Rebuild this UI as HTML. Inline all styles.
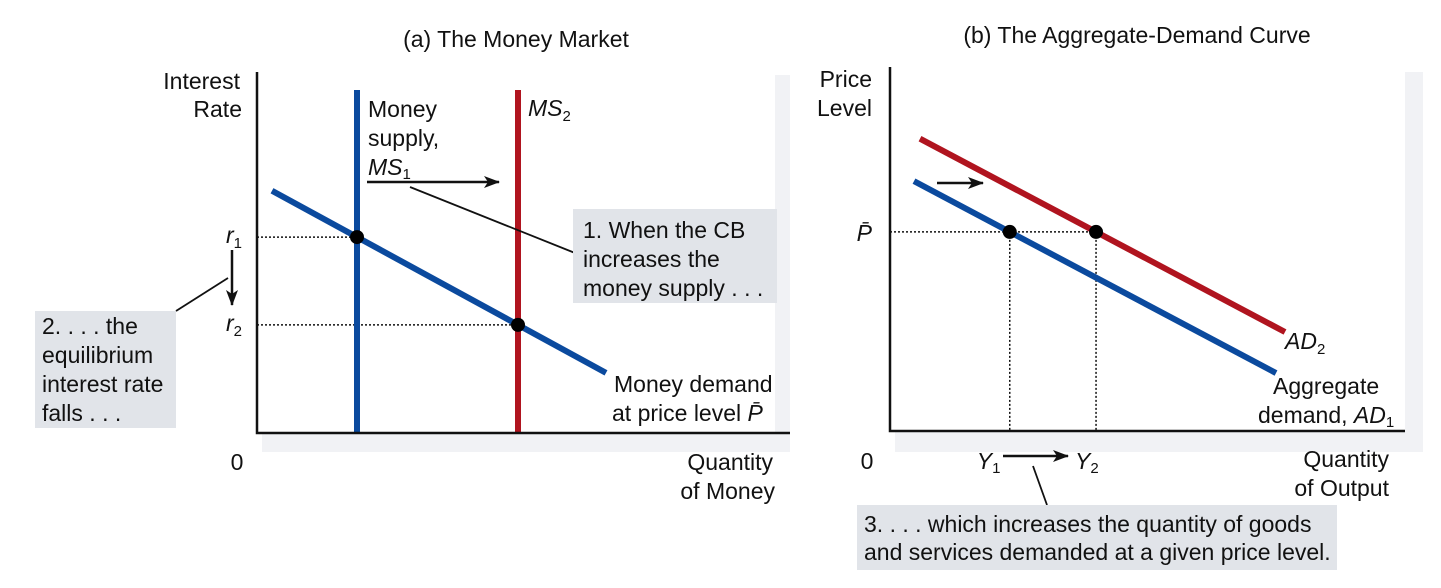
<!DOCTYPE html>
<html><head><meta charset="utf-8">
<style>
html,body{margin:0;padding:0;background:#fff;}
svg{display:block;font-family:"Liberation Sans",Arial,sans-serif;}
text{font-size:23px;fill:#111;}
</style></head>
<body>
<svg id="chart" width="1441" height="588" viewBox="0 0 1441 588" xmlns="http://www.w3.org/2000/svg">
<g id="panelA">
  <rect x="262" y="75" width="528" height="377" fill="#f1f2f5"/>
  <rect x="257" y="66" width="518" height="367" fill="#fff"/>
  <text x="516" y="47" text-anchor="middle" font-size="22">(a) The Money Market</text>
  <text x="240" y="89" text-anchor="end"><tspan x="240">Interest</tspan><tspan x="242" dy="28">Rate</tspan></text>
  <text x="237" y="470" text-anchor="middle">0</text>
  <text x="773" y="470" text-anchor="end"><tspan x="773">Quantity</tspan><tspan x="775" dy="29">of Money</tspan></text>
</g>
<g id="panelB">
  <rect x="895" y="72" width="528" height="380" fill="#f1f2f5"/>
  <rect x="890" y="64" width="515" height="367" fill="#fff"/>
  <text x="1137" y="43" text-anchor="middle" font-size="22">(b) The Aggregate-Demand Curve</text>
  <text x="872" y="87" text-anchor="end"><tspan x="872">Price</tspan><tspan x="872" dy="29">Level</tspan></text>
  <text x="867" y="469" text-anchor="middle">0</text>
  <text x="1389" y="467" text-anchor="end"><tspan x="1389">Quantity</tspan><tspan x="1389" dy="29">of Output</tspan></text>
</g>
</svg>
<script>
// Panel (a) data (conceptual units)
const msQuantities = [2, 5.22];          // MS1, MS2
const msLabels = ['MS1', 'MS2'];
const mdQ = [0.3, 6.98];                  // money demand endpoints (quantity)
const mdR = [6.73, 1.67];                 // money demand endpoints (rate)
// Panel (b) data
const adY = [[0.48, 7.72], [0.6, 7.9]];   // AD1, AD2 endpoints (output)
const adP = [[6.94, 1.61], [8.12, 2.75]]; // AD1, AD2 endpoints (price)
const priceLevel = [5.53];

const NS = 'http://www.w3.org/2000/svg';
const svg = document.getElementById('chart');
function xA(q){return 257 + q*50;}
function yA(r){return 433 - r*36;}
function xB(y){return 890 + y*50;}
function yB(p){return 431 - p*36;}
function mk(tag, attrs, parent){
  const e = document.createElementNS(NS, tag);
  for (const k in attrs) e.setAttribute(k, attrs[k]);
  (parent||svg).appendChild(e);
  return e;
}
function lineVal(q0,q1,v0,v1,q){return v0 + (v1-v0)*(q-q0)/(q1-q0);}
const BLUE='#0b4a9e', RED='#b0141f';

const defs = mk('defs',{});
const mkr = mk('marker',{id:'ah',markerWidth:'16',markerHeight:'12',refX:'15',refY:'6',orient:'auto',markerUnits:'userSpaceOnUse'},defs);
mk('path',{d:'M0,0 L16,6 L0,12 L4,6 Z',fill:'#111'},mkr);

// ---- Panel A ----
const rEq = msQuantities.map(q => lineVal(mdQ[0],mdQ[1],mdR[0],mdR[1],q));
rEq.forEach((r,i)=>{
  const d = mk('line',{x1:257,y1:yA(r),x2:xA(msQuantities[i]),y2:yA(r),stroke:'#111','stroke-width':1.5,'stroke-dasharray':'2,2'});
  
  
});
const md = mk('line',{x1:xA(mdQ[0]),y1:yA(mdR[0]),x2:xA(mdQ[1]),y2:yA(mdR[1]),stroke:BLUE,'stroke-width':6});


msQuantities.forEach((q,i)=>{
  const l = mk('line',{x1:xA(q),y1:90,x2:xA(q),y2:433,stroke:i===0?BLUE:RED,'stroke-width':6});
  
  
});
rEq.forEach((r,i)=>{
  const c = mk('circle',{cx:xA(msQuantities[i]),cy:yA(r),r:7,fill:'#000'});
  
  
  const t = mk('text',{x:242,y:yA(r)+6,'text-anchor':'end','font-style':'italic'});
  
  
  t.innerHTML = 'r<tspan font-size="15" dy="5" font-style="normal">'+(i+1)+'</tspan>';
});
let ax = mk('path',{d:'M257,72 V433 H790',fill:'none',stroke:'#111','stroke-width':2.5});


let t1 = mk('text',{x:368,y:117});


t1.innerHTML = '<tspan x="368">Money</tspan><tspan x="368" dy="29">supply,</tspan><tspan x="368" dy="29" font-style="italic">MS</tspan><tspan font-size="15" dy="4">1</tspan>';
let t2 = mk('text',{x:528,y:116,'font-style':'italic'});


t2.innerHTML = 'MS<tspan font-size="15" dy="5" font-style="normal">2</tspan>';
let a1 = mk('line',{x1:367,y1:182,x2:499,y2:182,stroke:'#111','stroke-width':2.5,'marker-end':'url(#ah)'});


let ld1 = mk('line',{x1:410,y1:187,x2:575,y2:253,stroke:'#111','stroke-width':1.8});


let b1 = mk('rect',{x:573,y:209,width:204,height:94,fill:'#e1e4e9'});


let bt1 = mk('text',{x:583,y:238});


bt1.innerHTML = '<tspan x="583">1. When the CB</tspan><tspan x="583" dy="29">increases the</tspan><tspan x="583" dy="29">money supply . . .</tspan>';
let da = mk('line',{x1:232,y1:250,x2:232,y2:305,stroke:'#111','stroke-width':2.5,'marker-end':'url(#ah)'});


let ld2 = mk('line',{x1:176,y1:311,x2:228,y2:278,stroke:'#111','stroke-width':1.8});


let b2 = mk('rect',{x:35,y:311,width:141,height:117,fill:'#e1e4e9'});


let bt2 = mk('text',{x:42,y:334});


bt2.innerHTML = '<tspan x="42">2. . . . the</tspan><tspan x="42" dy="29">equilibrium</tspan><tspan x="42" dy="29">interest rate</tspan><tspan x="42" dy="29">falls . . .</tspan>';
let mdl = mk('text',{x:614,y:392});


mdl.innerHTML = '<tspan x="614">Money demand</tspan><tspan x="612" dy="29">at price level </tspan><tspan font-style="italic">P̄</tspan>';

// ---- Panel B ----
const p0 = priceLevel[0];
const yEq = adY.map((ys,i)=> ys[0] + (ys[1]-ys[0])*(p0-adP[i][0])/(adP[i][1]-adP[i][0]));
let pg = mk('line',{x1:890,y1:yB(p0),x2:xB(yEq[1]),y2:yB(p0),stroke:'#111','stroke-width':1.5,'stroke-dasharray':'2,2'});


yEq.forEach((y,i)=>{
  const v = mk('line',{x1:xB(y),y1:yB(p0),x2:xB(y),y2:431,stroke:'#111','stroke-width':1.5,'stroke-dasharray':'2,2'});
  
  
});
adY.forEach((ys,i)=>{
  const l = mk('line',{x1:xB(ys[0]),y1:yB(adP[i][0]),x2:xB(ys[1]),y2:yB(adP[i][1]),stroke:i===0?BLUE:RED,'stroke-width':6});
  
  
});
yEq.forEach((y,i)=>{
  const c = mk('circle',{cx:xB(y),cy:yB(p0),r:7,fill:'#000'});
  
  
  const t = mk('text',{x:xB(y)-33+i*12,y:469,'font-style':'italic'});
  
  
  t.innerHTML = 'Y<tspan font-size="15" dy="4" font-style="normal">'+(i+1)+'</tspan>';
});
let ax2 = mk('path',{d:'M890,67 V431 H1405',fill:'none',stroke:'#111','stroke-width':2.5});


let pl = mk('text',{x:872,y:241,'text-anchor':'end','font-style':'italic'});


pl.textContent = 'P̄';
let a2 = mk('line',{x1:937,y1:183,x2:983,y2:183,stroke:'#111','stroke-width':2.5,'marker-end':'url(#ah)'});


let a3 = mk('line',{x1:1003,y1:456,x2:1068,y2:456,stroke:'#111','stroke-width':2.5,'marker-end':'url(#ah)'});


let ld3 = mk('line',{x1:1033,y1:466,x2:1047,y2:505,stroke:'#111','stroke-width':1.8});


let b3 = mk('rect',{x:857,y:505,width:480,height:65,fill:'#e1e4e9'});


let bt3 = mk('text',{x:864,y:532});


bt3.innerHTML = '<tspan x="864">3. . . . which increases the quantity of goods</tspan><tspan x="864" dy="28">and services demanded at a given price level.</tspan>';
let ad2l = mk('text',{x:1285,y:349,'font-style':'italic'});


ad2l.innerHTML = 'AD<tspan font-size="15" dy="5" font-style="normal">2</tspan>';
let ad1l = mk('text',{x:1273,y:394});


ad1l.innerHTML = '<tspan x="1273">Aggregate</tspan><tspan x="1258" dy="29">demand, </tspan><tspan font-style="italic">AD</tspan><tspan font-size="15" dy="4">1</tspan>';
</script>
</body></html>
